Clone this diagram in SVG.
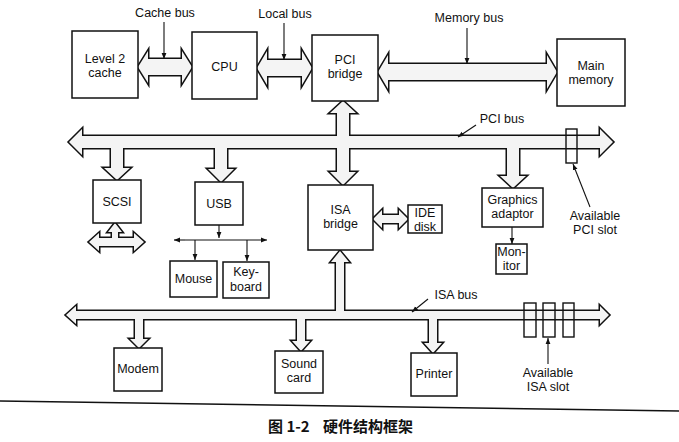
<svg xmlns="http://www.w3.org/2000/svg" xmlns:xlink="http://www.w3.org/1999/xlink" width="679" height="442" viewBox="0 0 679 442">
<style>
.box{fill:#fff;stroke:#111;stroke-width:1.5}
.t{font-family:"Liberation Sans",Arial,sans-serif;font-size:12.5px;fill:#111;text-anchor:middle}
.ol{fill:none;stroke:#111;stroke-width:3;stroke-linejoin:miter}
.fl{fill:#f4f4f4;stroke:none}
.thin{fill:none;stroke:#111;stroke-width:1.1}
.slot{fill:none;stroke:#111;stroke-width:1.4}
.cap{font-family:"Noto Sans CJK SC","Liberation Sans",sans-serif;font-size:15px;font-weight:bold;fill:#111}
</style>
<defs>
<marker id="ah" viewBox="0 0 10 10" refX="10" refY="5" markerWidth="6" markerHeight="6" orient="auto" markerUnits="userSpaceOnUse">
<path d="M0,1 L10,5 L0,9 Z" fill="#111"/>
</marker>
<path id="cacheBus" d="M138,67 L148,51 L148,59 L182,59 L182,51 L192,67 L182,83 L182,75 L148,75 L148,83 Z"/>
<path id="localBus" d="M257,68 L267,51 L267,60 L302,60 L302,51 L312,68 L302,85 L302,76 L267,76 L267,85 Z"/>
<path id="memBus" d="M378,72 L388,55 L388,64 L547,64 L547,55 L557,72 L547,89 L547,80 L388,80 L388,89 Z"/>
<path id="pciBus" d="M69,142 L82,129 L82,136 L600,136 L600,129 L613,142 L600,155 L600,148 L82,148 L82,155 Z"/>
<path id="pciScsi" d="M111,140 L123,140 L123,168 L130,168 L117,180 L104,168 L111,168 Z"/>
<path id="pciUsb" d="M215,140 L227,140 L227,169 L234,169 L221,182 L208,169 L215,169 Z"/>
<path id="pciGfx" d="M507,140 L519,140 L519,176 L526,176 L513,188 L500,176 L507,176 Z"/>
<path id="pciIsa" d="M343,101 L356,113 L349,113 L349,172 L356,172 L343,185 L330,172 L337,172 L337,113 L330,113 Z"/>
<path id="isaBus" d="M66,315 L76,306 L76,311 L600,311 L600,306 L609,315 L600,324 L600,319 L76,319 L76,324 Z"/>
<path id="isaUp" d="M336,313 L336,262 L331,262 L340,251 L349,262 L344,262 L344,313 Z"/>
<path id="isaModem" d="M135,317 L143,317 L143,339 L148,339 L139,348 L130,339 L135,339 Z"/>
<path id="isaSound" d="M297,317 L305,317 L305,341 L310,341 L301,351 L292,341 L297,341 Z"/>
<path id="isaPrinter" d="M429,317 L437,317 L437,343 L442,343 L433,353 L424,343 L429,343 Z"/>
<path id="ideBus" d="M373,219 L382,210 L382,215 L399,215 L399,210 L408,219 L399,228 L399,223 L382,223 L382,228 Z"/>
<path id="scsiUp" d="M112,244 L112,232 L108,232 L115,223 L122,232 L118,232 L118,244 Z"/>
<path id="scsiH" d="M89,242 L99,233 L99,238 L134,238 L134,233 L144,242 L134,251 L134,246 L99,246 L99,251 Z"/>
</defs>

<g id="connectors">
<g class="ol">
<use xlink:href="#cacheBus"/><use xlink:href="#localBus"/><use xlink:href="#memBus"/>
<use xlink:href="#pciBus"/><use xlink:href="#pciScsi"/><use xlink:href="#pciUsb"/><use xlink:href="#pciGfx"/><use xlink:href="#pciIsa"/>
<use xlink:href="#isaBus"/><use xlink:href="#isaUp"/><use xlink:href="#isaModem"/><use xlink:href="#isaSound"/><use xlink:href="#isaPrinter"/>
<use xlink:href="#ideBus"/><use xlink:href="#scsiUp"/><use xlink:href="#scsiH"/>
</g>
<g class="fl">
<use xlink:href="#cacheBus"/><use xlink:href="#localBus"/><use xlink:href="#memBus"/>
<use xlink:href="#pciBus"/><use xlink:href="#pciScsi"/><use xlink:href="#pciUsb"/><use xlink:href="#pciGfx"/><use xlink:href="#pciIsa"/>
<use xlink:href="#isaBus"/><use xlink:href="#isaUp"/><use xlink:href="#isaModem"/><use xlink:href="#isaSound"/><use xlink:href="#isaPrinter"/>
<use xlink:href="#ideBus"/><use xlink:href="#scsiUp"/><use xlink:href="#scsiH"/>
</g>
<rect class="slot" x="566" y="129" width="11" height="34"/>
<rect class="slot" x="524" y="303" width="12" height="34"/>
<rect class="slot" x="543" y="303" width="12" height="34"/>
<rect class="slot" x="563" y="303" width="11" height="34"/>
<line class="thin" x1="219" y1="225" x2="219" y2="238" marker-end="url(#ah)"/>
<line class="thin" x1="185" y1="240" x2="174" y2="240" marker-end="url(#ah)"/>
<line class="thin" x1="185" y1="240" x2="267" y2="240" marker-end="url(#ah)"/>
<line class="thin" x1="195" y1="240" x2="195" y2="260" marker-end="url(#ah)"/>
<line class="thin" x1="247" y1="240" x2="247" y2="261" marker-end="url(#ah)"/>
<line class="thin" x1="512" y1="227" x2="512" y2="244" marker-end="url(#ah)"/>
<line class="thin" x1="164" y1="22" x2="164" y2="59" marker-end="url(#ah)"/>
<line class="thin" x1="284" y1="23" x2="284" y2="60" marker-end="url(#ah)"/>
<line class="thin" x1="467" y1="28" x2="467" y2="64" marker-end="url(#ah)"/>
<line class="thin" x1="476" y1="125" x2="458" y2="137" marker-end="url(#ah)"/>
<line class="thin" x1="590" y1="207" x2="573" y2="164" marker-end="url(#ah)"/>
<line class="thin" x1="428" y1="299" x2="412" y2="312" marker-end="url(#ah)"/>
<line class="thin" x1="548" y1="364" x2="548" y2="338" marker-end="url(#ah)"/>
</g>

<g id="l2cache"><rect class="box" x="72" y="31" width="66" height="67"/><text class="t" x="105" y="63">Level 2</text><text class="t" x="105" y="77">cache</text></g>
<g id="cpu"><rect class="box" x="192" y="32" width="65" height="67"/><text class="t" x="224.5" y="71">CPU</text></g>
<g id="pcibridge"><rect class="box" x="312" y="35" width="66" height="66"/><text class="t" x="345" y="64">PCI</text><text class="t" x="345" y="78">bridge</text></g>
<g id="mainmemory"><rect class="box" x="557" y="39" width="68" height="67"/><text class="t" x="591" y="70">Main</text><text class="t" x="591" y="84">memory</text></g>
<g id="scsi"><rect class="box" x="93" y="180" width="48" height="43"/><text class="t" x="117" y="206">SCSI</text></g>
<g id="usb"><rect class="box" x="195" y="182" width="48" height="43"/><text class="t" x="219" y="208">USB</text></g>
<g id="isabridge"><rect class="box" x="308" y="185" width="65" height="65"/><text class="t" x="340.5" y="214">ISA</text><text class="t" x="340.5" y="228">bridge</text></g>
<g id="idedisk"><rect class="box" x="408" y="205" width="34" height="28"/><text class="t" x="425" y="217">IDE</text><text class="t" x="425" y="231">disk</text></g>
<g id="graphics"><rect class="box" x="482" y="188" width="61" height="39"/><text class="t" x="512.5" y="204">Graphics</text><text class="t" x="512.5" y="218">adaptor</text></g>
<g id="monitor"><rect class="box" x="496" y="244" width="31" height="30"/><text class="t" x="511.5" y="256">Mon-</text><text class="t" x="511.5" y="270">itor</text></g>
<g id="mouse"><rect class="box" x="170" y="261" width="47" height="36"/><text class="t" x="193.5" y="283">Mouse</text></g>
<g id="keyboard"><rect class="box" x="223" y="262" width="46" height="36"/><text class="t" x="246" y="276">Key-</text><text class="t" x="246" y="291">board</text></g>
<g id="modem"><rect class="box" x="114" y="348" width="48" height="43"/><text class="t" x="138" y="373">Modem</text></g>
<g id="soundcard"><rect class="box" x="275" y="351" width="48" height="42"/><text class="t" x="299" y="368">Sound</text><text class="t" x="299" y="382">card</text></g>
<g id="printer"><rect class="box" x="411" y="353" width="46" height="43"/><text class="t" x="434" y="378">Printer</text></g>

<g id="labels">
<text class="t" x="165" y="17">Cache bus</text>
<text class="t" x="285" y="18">Local bus</text>
<text class="t" x="469" y="22">Memory bus</text>
<text class="t" x="502" y="123">PCI bus</text>
<text class="t" x="595" y="220">Available</text>
<text class="t" x="595" y="234">PCI slot</text>
<text class="t" x="456" y="299">ISA bus</text>
<text class="t" x="548" y="377">Available</text>
<text class="t" x="548" y="391">ISA slot</text>
</g>

<line x1="0" y1="401" x2="679" y2="411" stroke="#111" stroke-width="1.5"/>
<text class="cap" x="268" y="432">图 1-2<tspan x="323">硬件结构框架</tspan></text>
</svg>
